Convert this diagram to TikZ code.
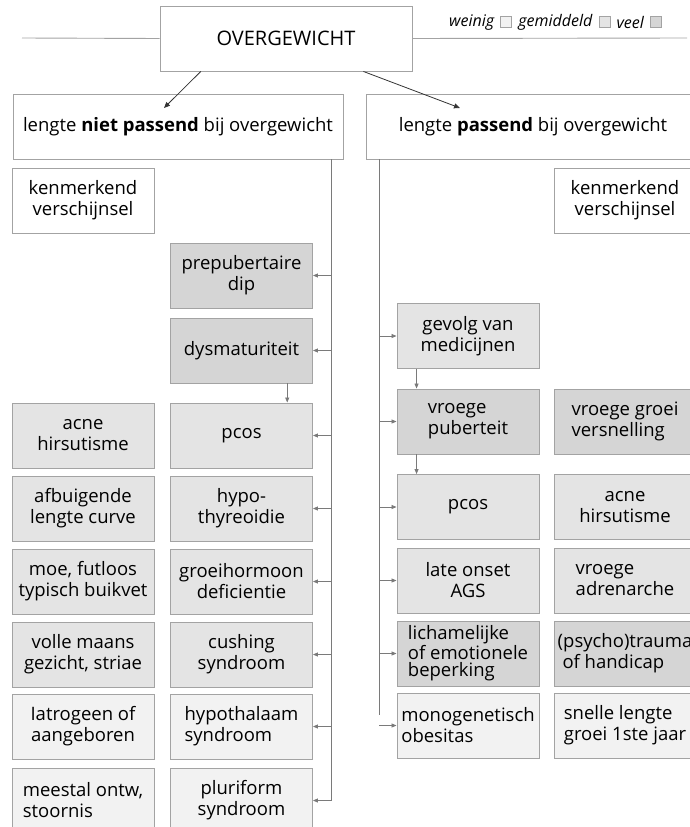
\documentclass[tikz,border=0pt]{standalone}
\usepackage{fontspec}
\setmainfont{Open Sans}
\usetikzlibrary{calc}
\usetikzlibrary{positioning}
\usetikzlibrary{arrows.meta}

\definecolor{weinig}{HTML}{F2F2F2}
\definecolor{gemiddeld}{HTML}{E4E4E4}
\definecolor{veel}{HTML}{D5D5D5}
\definecolor{rand}{HTML}{A3A3A3}
\definecolor{lijn}{HTML}{7A7A7A}

\begin{document}
\begin{tikzpicture}[x=1pt,y=-1pt,
  box/.style={draw=rand,line width=0.9pt,minimum width=142pt,minimum height=65pt,inner sep=2pt,align=center,font=\fontsize{18.5}{21}\selectfont},
  kop/.style={box,fill=white,minimum height=65pt},
  licht/.style={box,fill=weinig},
  midden/.style={box,fill=gemiddeld},
  donker/.style={box,fill=veel},
  rechts/.style={minimum width=160pt,label={[align=center,font=\fontsize{18.5}{21}\selectfont,xshift=-9pt]center:#1}},
  rechtsl/.style={minimum width=160pt,label={[align=left,font=\fontsize{18.5}{21}\selectfont,xshift=-9pt]center:#1}},
  conn/.style={draw=lijn,line width=0.8pt},
  pijl/.style={conn,-{Triangle[length=5pt,width=4pt]}},
  zwart/.style={draw=black!80,line width=0.8pt,-{Triangle[length=6pt,width=5pt]}},
  vakje/.style={draw=rand,line width=0.8pt,minimum size=11pt,inner sep=0pt},
  leg/.style={font=\fontsize{16}{18}\selectfont\itshape,inner sep=1pt}]

\useasboundingbox (0,0) rectangle (690,827);

\node[kop,minimum width=252pt,font=\fontsize{20}{22}\selectfont] (ov) at (286,38.5) {OVERGEWICHT};
\draw[draw=rand,line width=0.9pt] (22,38) -- (ov.west);
\draw[draw=rand,line width=0.9pt] (ov.east) -- (687,38);

\node[leg,anchor=base west] (lw) at (448,26) {weinig};
\node[vakje,fill=weinig,right=5pt of lw] (sw) {};
\node[leg,right=5pt of sw] (lg) {gemiddeld};
\node[vakje,fill=gemiddeld,right=5pt of lg] (sg) {};
\node[leg,right=5pt of sg] (lv2) {veel};
\node[vakje,fill=veel,right=5pt of lv2] (sv) {};

\node[kop,minimum width=330pt] (nietp) at (178,126.5) {lengte \textbf{niet passend} bij overgewicht};
\node[kop,minimum width=354pt] (welp) at (543,126.5) {};
\node[font=\fontsize{18.5}{21}\selectfont] (welpt) at (533,126.5) {lengte \textbf{passend} bij overgewicht};

\coordinate (a) at ($(ov.south west)!0.163!(ov.south east)$);
\coordinate (b) at ($(ov.south west)!0.806!(ov.south east)$);
\coordinate (ae) at (164,108);
\coordinate (be) at (460,108);
\draw[zwart] (a) -- (ae);
\draw[zwart] (b) -- (be);

\node[kop] (kenl) at (83,200.5) {kenmerkend\\verschijnsel};
\node[kop,rechts={kenmerkend\\verschijnsel}] (kenr) at (634,200.5) {};

\node[donker] (dip) at (241.5,275.5) {prepubertaire\\dip};
\node[donker] (dysm) at (241.5,350.5) {dysmaturiteit};

\node[midden] (acnel) at (83,435.5) {acne\\hirsutisme};
\node[midden] (pcosl) at (241.5,435.5) {pcos};
\node[midden] (afb) at (83,508.5) {afbuigende\\lengte curve};
\node[midden] (hypo) at (241.5,508.5) {hypo-\\thyreoidie};
\node[midden] (moe) at (83,581.5) {moe, futloos\\typisch buikvet};
\node[midden] (gh) at (241.5,581.5) {groeihormoon\\deficientie};
\node[midden] (volle) at (83,654.5) {volle maans\\gezicht, striae};
\node[midden] (cush) at (241.5,654.5) {cushing\\syndroom};
\node[licht] (iatro) at (83,726.5) {Iatrogeen of\\aangeboren};
\node[licht,align=left] (hypoth) at (241.5,726.5) {hypothalaam\\syndroom};
\node[licht,align=left] (meest) at (83,800.5) {meestal ontw,\\stoornis};
\node[licht] (pluri) at (241.5,800.5) {pluriform\\syndroom};

\node[midden] (medic) at (468,336) {gevolg van\\medicijnen};
\node[donker,align=left] (vroeg) at (468,421.5) {vroege\\puberteit};
\node[donker,rechtsl={vroege groei\\versnelling}] (vgroei) at (634,421.5) {};
\node[midden] (pcosr) at (468,507) {pcos};
\node[midden,rechts={acne\\hirsutisme}] (acner) at (634,507) {};
\node[midden] (ags) at (468,580.5) {late onset\\AGS};
\node[midden,rechtsl={vroege\\adrenarche}] (adren) at (634,580.5) {};
\node[donker,align=left,font=\fontsize{18.5}{17.5}\selectfont] (beperk) at (468,653.5) {lichamelijke\\of emotionele\\beperking};
\node[donker,rechtsl={(psycho)trauma\\\ of handicap}] (trauma) at (634,653.5) {};
\node[licht,align=left] (mono) at (468,725.5) {monogenetisch\\obesitas};
\node[licht,rechtsl={snelle lengte\\groei 1ste jaar}] (snel) at (634,725.5) {};

\coordinate (lv) at (331,0);
\coordinate (rv) at (379,0);
\coordinate (rvend) at (379,715);

\draw[conn] (nietp.south -| lv) -- (lv |- pluri.east);
\foreach \n in {dip,dysm,pcosl,hypo,gh,cush,hypoth,pluri}
  \draw[pijl] (lv |- \n.east) -- (\n.east);

\draw[conn] (welp.south -| rv) -- (rvend);
\foreach \n in {medic,vroeg,pcosr,ags,beperk,mono}
  \draw[pijl] (rv |- \n.west) -- (\n.west);

\draw[pijl] ($(dysm.south west)!0.82!(dysm.south east)$) -- ($(pcosl.north west)!0.82!(pcosl.north east)$);
\draw[pijl] ($(medic.south west)!0.14!(medic.south east)$) -- ($(vroeg.north west)!0.14!(vroeg.north east)$);
\draw[pijl] ($(vroeg.south west)!0.14!(vroeg.south east)$) -- ($(pcosr.north west)!0.14!(pcosr.north east)$);

\end{tikzpicture}
\end{document}
